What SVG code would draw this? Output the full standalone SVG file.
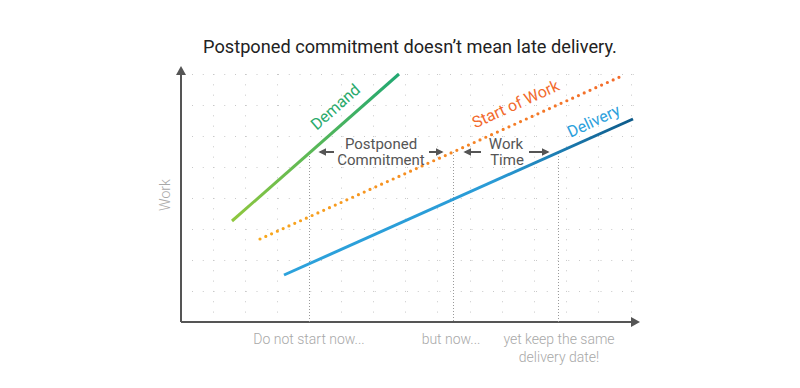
<svg xmlns="http://www.w3.org/2000/svg" width="800" height="388" viewBox="0 0 800 388">
<defs>
<style>
.grid{stroke:#c8c8c8;stroke-width:1;fill:none}
.axis{stroke:#555;stroke-width:2;fill:none}
.guide{stroke:#9a9a9a;stroke-width:1;stroke-dasharray:1 2;fill:none}
.arr{stroke:#555;stroke-width:2;fill:none}
.lbl{font-family:Roboto,"Liberation Sans",sans-serif;font-size:15px;fill:#555;text-anchor:middle}
.tick{font-family:Roboto,"Liberation Sans",sans-serif;font-weight:300;font-size:14px;fill:#a8a8a8;text-anchor:middle}
.series{font-family:Roboto,"Liberation Sans",sans-serif;font-size:16px;text-anchor:middle}
</style>
<marker id="ah" viewBox="0 0 10 10" refX="8" refY="5" markerWidth="4" markerHeight="4" orient="auto" markerUnits="strokeWidth">
<path d="M0,0 L10,5 L0,10 z" fill="#555"/>
</marker>
<linearGradient id="gDemand" gradientUnits="userSpaceOnUse" x1="232" y1="221" x2="399" y2="74">
<stop offset="0" stop-color="#8fc73e"/><stop offset="1" stop-color="#21a872"/>
</linearGradient>
<linearGradient id="gStart" gradientUnits="userSpaceOnUse" x1="260" y1="239" x2="624" y2="75">
<stop offset="0" stop-color="#f8a81c"/><stop offset="1" stop-color="#f36a2b"/>
</linearGradient>
<linearGradient id="gDel" gradientUnits="userSpaceOnUse" x1="284" y1="275" x2="633" y2="119">
<stop offset="0" stop-color="#2ca2dc"/><stop offset="0.6" stop-color="#2a9bd6"/><stop offset="1" stop-color="#0d5a89"/>
</linearGradient>
</defs>
<rect width="800" height="388" fill="#fff"/>
<g id="grid">
<path class="grid" stroke-dasharray="1 9.75" d="M192,74.5H634M192,105.5H634M192,136.5H634M192,167.5H634M192,198.5H634M192,229.5H634M192,260.5H634M192,291.5H634"/>
<path class="grid" stroke-dasharray="1 9.33" d="M213.5,74V320M245.5,74V320M277.5,74V320M341.5,74V320M373.5,74V320M405.5,74V320M437.5,74V320M470.5,74V320M502.5,74V320M534.5,74V320M566.5,74V320M598.5,74V320M631.5,74V320"/>
</g>
<g id="title"><text x="410" y="53" font-family="Roboto,'Liberation Sans',sans-serif" font-size="18.2" fill="#222" text-anchor="middle">Postponed commitment doesn’t mean late delivery.</text></g>
<g id="axes">
<path class="axis" d="M181,322V73M181,322H632"/>
<path d="M181,66 L176,75 L186,75 z" fill="#555"/>
<path d="M640,322 L631,317 L631,327 z" fill="#555"/>
<text x="0" y="0" transform="translate(170,195) rotate(-90)" class="tick" font-size="15">Work</text>
</g>
<g id="guides">
<path class="guide" d="M309.5,153V322M453.5,152V322M558.5,153V322"/>
</g>
<g id="demand">
<path d="M232,221L399,74" stroke="url(#gDemand)" stroke-width="3" fill="none"/>
<text class="series" fill="#2aaa6c" transform="translate(339,111) rotate(-41.4)">Demand</text>
</g>
<g id="start-of-work">
<path d="M260,239L624,75" stroke="url(#gStart)" stroke-width="3.2" stroke-linecap="round" stroke-dasharray="0 6.35" fill="none"/>
<text class="series" fill="#f26a2c" transform="translate(518,109) rotate(-24.5)">Start of Work</text>
</g>
<g id="delivery">
<path d="M284,275L633,119" stroke="url(#gDel)" stroke-width="3" fill="none"/>
<text class="series" fill="#2ba0dc" transform="translate(596,126) rotate(-25)">Delivery</text>
</g>
<g id="postponed">
<text class="lbl" x="381" y="149">Postponed</text>
<text class="lbl" x="381" y="165">Commitment</text>
</g>
<g id="worktime">
<text class="lbl" x="506" y="149">Work</text>
<text class="lbl" x="507" y="165">Time</text>
</g>
<g id="connectors">
<path class="arr" marker-end="url(#ah)" d="M334,152H320"/>
<path class="arr" marker-end="url(#ah)" d="M429,152H442"/>
<path class="arr" marker-end="url(#ah)" d="M481,152H465"/>
<path class="arr" marker-end="url(#ah)" d="M529,152H548"/>
</g>
<g id="ticks">
<text class="tick" x="309" y="344">Do not start now...</text>
<text class="tick" x="451" y="344">but now...</text>
<text class="tick" x="559" y="344">yet keep the same</text>
<text class="tick" x="559" y="362">delivery date!</text>
</g>
</svg>
